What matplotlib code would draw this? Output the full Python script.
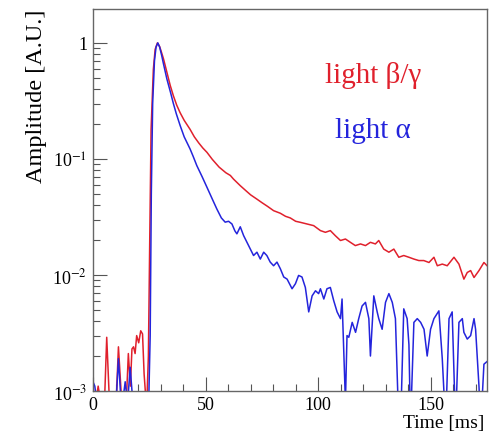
import matplotlib
matplotlib.use("Agg")
import matplotlib.pyplot as plt
from matplotlib.ticker import FixedLocator, FixedFormatter, MultipleLocator

plt.rcParams["font.family"] = ["Liberation Serif", "DejaVu Serif"]
plt.rcParams["mathtext.fontset"] = "stix"

# pulse shapes (time in ms, amplitude normalised to 1)
# values below 1e-3 are under the axis floor
t_red = [0, 1.6, 2.3, 3.0, 5.2, 6.1, 7.2, 10.4, 11.3, 12.6, 14.9, 15.7, 16.6, 17.3,
         18, 18.7, 19.4, 20.3, 21.2, 22, 22.7, 23.4, 24, 24.6, 25.2, 25.8, 26.8,
         27.6, 28.6, 29.6, 30.5, 31.3, 32.8, 34.3, 35.7, 37.2, 38.7, 40.5, 43.1,
         45, 47, 48.8, 50.6, 53, 56, 59, 61, 62.4, 65.4, 68, 70, 72.8, 75, 77.5,
         80.2, 83.2, 85.5, 87.6, 90, 92.1, 95.0, 98.0, 101.0, 103.2, 105.4, 107.6,
         109.9, 112.1, 114.3, 116.5, 118.8, 121.0, 123.2, 125.4, 126.9, 129.1,
         131.4, 133.6, 135.8, 138.0, 140.3, 142.5, 144.7, 146.9, 149.2, 151.4,
         152.9, 155.1, 157.3, 160.3, 162.5, 164.7, 166.2, 167.7, 169.2, 171.4,
         173.6, 175]
amp_red = [0.0009, 0.0009, 0.0011, 0.0009, 0.0009, 0.0029, 0.0009, 0.0009, 0.0024,
           0.0009, 0.0009, 0.0021, 0.0011, 0.0023, 0.0024, 0.0021, 0.0030, 0.0026,
           0.0033, 0.0031, 0.0014, 0.0009, 0.0009, 0.002, 0.02, 0.18, 0.59, 0.88,
           1.0, 0.93, 0.82, 0.73, 0.56, 0.43, 0.35, 0.29, 0.25, 0.215, 0.18, 0.155,
           0.137, 0.124, 0.114, 0.099, 0.085, 0.076, 0.072, 0.067, 0.0588, 0.053,
           0.049, 0.045, 0.042, 0.039, 0.0358, 0.034, 0.032, 0.031, 0.029, 0.0284,
           0.0275, 0.0266, 0.0241, 0.0233, 0.0241, 0.0218, 0.0198, 0.0204, 0.0191,
           0.0179, 0.0185, 0.0179, 0.0191, 0.0185, 0.0198, 0.0167, 0.0157, 0.0167,
           0.0142, 0.0147, 0.0142, 0.0137, 0.0133, 0.0133, 0.0128, 0.0142, 0.0120,
           0.0124, 0.0120, 0.0142, 0.0124, 0.0092, 0.0105, 0.0109, 0.0095, 0.0109,
           0.0128, 0.012]

t_blue = [0, 0.8, 1.4, 10.4, 11.3, 12.3, 13.5, 14.3, 15.0, 15.6, 16.5, 17.5, 24.8,
          25.4, 25.9, 26.5, 27.3, 28, 28.8, 29.6, 30.5, 31.3, 32.8, 34.5, 35.7, 37,
          38.7, 40.5, 43.1, 44.5, 46.1, 48.5, 50.6, 53, 55, 57, 58.7, 60.2, 61.7,
          63, 63.9, 65.4, 66.9, 69.1, 71.3, 72.8, 74.3, 75.8, 77.2, 78.7, 80.2,
          81.7, 83.2, 84.7, 86.2, 88.4, 89.9, 91.3, 92.8, 94.3, 95.8, 97.3, 98.8,
          100.2, 101.0, 102.5, 103.9, 105.4, 106.9, 108.4, 109.9, 110.6, 112.1,
          112.8, 113.6, 115.1, 116.6, 118.0, 119.5, 121.0, 122.5, 123.2, 124.7,
          126.2, 126.9, 128.4, 129.9, 131.4, 132.9, 134.3, 135.8, 136.6, 138.0,
          139.5, 140.3, 141.0, 142.5, 144.0, 145.5, 147.0, 148.4, 149.9, 151.4,
          153.6, 155.1, 156.6, 158.1, 159.5, 161.0, 162.5, 164.0, 164.7, 166.2,
          167.7, 169.2, 169.9, 171.4, 172.2, 173.6, 175.1]
amp_blue = [0.0012, 0.0011, 0.0009, 0.0009, 0.0019, 0.0009, 0.0009, 0.0012, 0.0009,
            0.0009, 0.0016, 0.0009, 0.0009, 0.003, 0.05, 0.3, 0.7, 0.92, 1.0, 0.92,
            0.78, 0.66, 0.49, 0.37, 0.30, 0.245, 0.194, 0.155, 0.122, 0.105, 0.0876,
            0.07, 0.057, 0.045, 0.037, 0.031, 0.0285, 0.029, 0.0275, 0.024, 0.0226,
            0.026, 0.0218, 0.0179, 0.0147, 0.0157, 0.0137, 0.0157, 0.0147, 0.0129,
            0.0120, 0.0129, 0.0113, 0.0096, 0.0092, 0.0076, 0.0084, 0.0099, 0.0096,
            0.0078, 0.0048, 0.0066, 0.0073, 0.0069, 0.0076, 0.0062, 0.0076, 0.0078,
            0.0060, 0.0048, 0.0042, 0.0062, 0.0008, 0.0030, 0.0029, 0.0039, 0.0032,
            0.0042, 0.0054, 0.0058, 0.0042, 0.0020, 0.0066, 0.0048, 0.0042, 0.0034,
            0.0058, 0.0069, 0.0058, 0.0042, 0.0005, 0.0005, 0.0051, 0.0042, 0.0025,
            0.0005, 0.0039, 0.0042, 0.0039, 0.0034, 0.0020, 0.0034, 0.0042, 0.0049,
            0.0019, 0.0005, 0.0042, 0.0048, 0.0005, 0.0039, 0.0042, 0.0032, 0.0028,
            0.0030, 0.0042, 0.0034, 0.0011, 0.0005, 0.0017, 0.0018]

y_ticks = [1e-3, 1e-2, 1e-1, 1]
y_tick_labels = [r"10$^{-3}$", r"10$^{-2}$", r"10$^{-1}$", "1"]

RED = "#e0202c"
BLUE = "#2424dc"

fig = plt.figure(figsize=(4.92, 4.35), dpi=100)
ax = fig.add_axes([0.189, 0.099, 0.801, 0.878])

ax.plot(t_red, amp_red, color=RED, lw=1.1)
ax.plot(t_blue, amp_blue, color=BLUE, lw=1.1)

ax.set_yscale("log")
ax.set_xlim(0, 175)
ax.set_ylim(1e-3, 1.96)

ax.yaxis.set_major_locator(FixedLocator(y_ticks))
ax.yaxis.set_major_formatter(FixedFormatter(y_tick_labels))
ax.xaxis.set_major_locator(MultipleLocator(50))
ax.xaxis.set_minor_locator(MultipleLocator(10))

ax.tick_params(which="both", direction="in", top=False, right=False,
               color="#555555", labelsize=13, pad=4)
ax.tick_params(which="major", length=10, width=0.8)
ax.tick_params(which="minor", length=5, width=0.8)
for s in ax.spines.values():
    s.set_color("#666666")
    s.set_linewidth(1.0)

fig.text(0.075, 0.977, "Amplitude [A.U.]", rotation=90, ha="center", va="top",
         fontsize=17.5)
fig.text(0.985, 0.026, "Time [ms]", ha="right", va="center", fontsize=14)

ax.text(0.71, 0.828, "light β/γ", color=RED, fontsize=21, ha="center",
        va="center", transform=ax.transAxes)
ax.text(0.71, 0.683, "light α", color=BLUE, fontsize=21, ha="center",
        va="center", transform=ax.transAxes)

fig.savefig("out.png", dpi=100, facecolor="white")
